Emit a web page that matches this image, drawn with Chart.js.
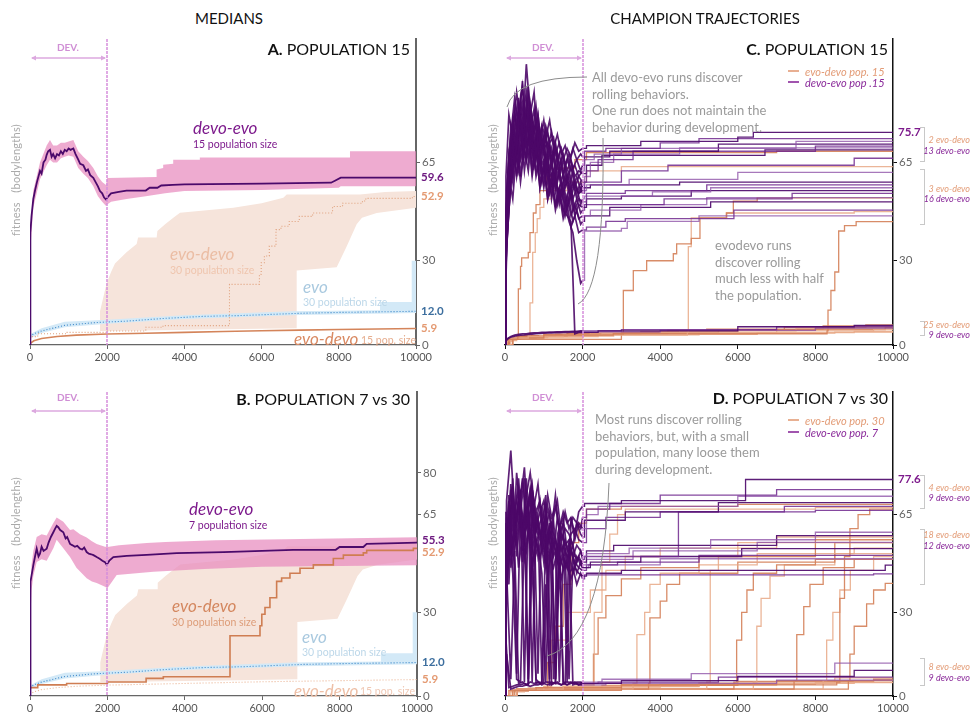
<!DOCTYPE html>
<html>
<head>
<meta charset="utf-8">
<script src="https://cdn.jsdelivr.net/npm/chart.js@4.4.1/dist/chart.umd.min.js"></script>
<style>
body { margin: 0; background: #fff; width: 973px; height: 713px; overflow: hidden; position: relative; font-family: Lato, "Noto Sans", sans-serif; }
canvas { position: absolute; }
.c { position: absolute; white-space: nowrap; line-height: 1; transform: translateY(-50%); }
.mid { transform: translate(-50%, -50%); }
.rot { transform: translate(-50%, -50%) rotate(-90deg); color: #aaa; font-size: 11px; letter-spacing: 0.3px; }
.dev { font-size: 10px; font-weight: bold; color: #d08fd5; }
.ttl { font-size: 16px; color: #111; }
.note { position: absolute; color: #9a9a9a; font-size: 13px; line-height: 16.7px; white-space: nowrap; }
.big { font-style: italic; font-size: 17px; }
.sm { font-size: 10.5px; }
.br { position: absolute; width: 4px; border: 1px solid #c8c8c8; border-left: none; }
.bl { font-size: 9px; font-style: italic; text-align: right; }
.o { color: #e39c77; }
.p { color: #8a2a9a; }
svg { position: absolute; left: 0; top: 0; pointer-events: none; z-index: 5; }
</style>
</head>
<body>
<canvas id="cA" width="486" height="340" style="left:0;top:30px"></canvas>
<canvas id="cC" width="493" height="340" style="left:480px;top:30px"></canvas>
<canvas id="cB" width="486" height="330" style="left:0;top:383px"></canvas>
<canvas id="cD" width="493" height="330" style="left:480px;top:383px"></canvas>

<div class="c mid" style="left:229px;top:18px;font-size:15px;color:#111">MEDIANS</div>
<div class="c mid" style="left:705px;top:18px;font-size:15px;color:#111">CHAMPION TRAJECTORIES</div>

<div class="c ttl" style="right:563px;top:49px"><b>A.</b> POPULATION 15</div>
<div class="c ttl" style="right:85px;top:49px"><b>C.</b> POPULATION 15</div>
<div class="c ttl" style="right:563px;top:399px"><b>B.</b> POPULATION 7 vs 30</div>
<div class="c ttl" style="right:85px;top:398px"><b>D.</b> POPULATION 7 vs 30</div>

<div class="c mid dev" style="left:68px;top:47px">DEV.</div>
<div class="c mid dev" style="left:543px;top:47px">DEV.</div>
<div class="c mid dev" style="left:68px;top:397px">DEV.</div>
<div class="c mid dev" style="left:543px;top:397px">DEV.</div>

<div class="c rot" style="left:15px;top:180px">fitness&nbsp;&nbsp;&nbsp;(bodylengths)</div>
<div class="c rot" style="left:492px;top:180px">fitness&nbsp;&nbsp;&nbsp;(bodylengths)</div>
<div class="c rot" style="left:15px;top:533px">fitness&nbsp;&nbsp;&nbsp;(bodylengths)</div>
<div class="c rot" style="left:492px;top:533px">fitness&nbsp;&nbsp;&nbsp;(bodylengths)</div>

<!-- panel A labels -->
<div class="c big" style="left:193px;top:127px;color:#7d1a8c">devo-evo</div>
<div class="c sm" style="left:193px;top:144px;color:#7d1a8c">15 population size</div>
<div class="c big" style="left:170px;top:253px;color:#ebbda4">evo-devo</div>
<div class="c sm" style="left:170px;top:270px;color:#efc5ae">30 population size</div>
<div class="c big" style="left:303px;top:286px;color:#a9c9df">evo</div>
<div class="c sm" style="left:303px;top:302px;color:#bcd7e9">30 population size</div>
<div class="c big" style="left:294px;top:338px;color:#d98a63">evo-devo</div>
<div class="c sm" style="left:361px;top:340px;color:#e6ad8e">15 pop. size</div>

<!-- panel B labels -->
<div class="c big" style="left:189px;top:508px;color:#7d1a8c">devo-evo</div>
<div class="c sm" style="left:189px;top:525px;color:#7d1a8c">7 population size</div>
<div class="c big" style="left:172px;top:605px;color:#d4875f">evo-devo</div>
<div class="c sm" style="left:172px;top:622px;color:#dd9c78">30 population size</div>
<div class="c big" style="left:302px;top:636px;color:#a9c9df">evo</div>
<div class="c sm" style="left:302px;top:652px;color:#bcd7e9">30 population size</div>
<div class="c big" style="left:294px;top:690px;color:#eebfa6">evo-devo</div>
<div class="c sm" style="left:360px;top:691px;color:#f0c8b4">15 pop. size</div>

<!-- panel C notes -->
<div class="c" style="left:805px;top:71px;font-size:11px;font-style:italic;color:#e39c77">evo-devo pop. 15</div>
<div class="c" style="left:805px;top:82px;font-size:11px;font-style:italic;color:#8a2a9a">devo-evo pop .15</div>
<div class="note" style="left:592px;top:69px">All devo-evo runs discover<br>rolling behaviors.<br>One run does not maintain the<br>behavior during development.</div>
<div class="note" style="left:715px;top:237px">evodevo runs<br>discover rolling<br>much less with half<br>the population.</div>

<!-- panel D notes -->
<div class="c" style="left:805px;top:420px;font-size:11px;font-style:italic;color:#e39c77">evo-devo pop. 30</div>
<div class="c" style="left:805px;top:432px;font-size:11px;font-style:italic;color:#8a2a9a">devo-evo pop. 7</div>
<div class="note" style="left:595px;top:411px">Most runs discover rolling<br>behaviors, but, with a small<br>population, many loose them<br>during development.</div>

<!-- brackets C -->
<div class="br" style="left:920px;top:127px;height:33px"></div>
<div class="br" style="left:920px;top:169px;height:54px"></div>
<div class="br" style="left:920px;top:321px;height:13px"></div>
<div class="c bl o" style="right:3px;top:139px">2 evo-devo</div>
<div class="c bl p" style="right:3px;top:150px">13 devo-evo</div>
<div class="c bl o" style="right:3px;top:188px">3 evo-devo</div>
<div class="c bl p" style="right:3px;top:198px">16 devo-evo</div>
<div class="c bl o" style="right:3px;top:324px">25 evo-devo</div>
<div class="c bl p" style="right:3px;top:334px">9 devo-evo</div>

<!-- brackets D -->
<div class="br" style="left:920px;top:475px;height:32px"></div>
<div class="br" style="left:920px;top:529px;height:54px"></div>
<div class="br" style="left:920px;top:658px;height:26px"></div>
<div class="c bl o" style="right:3px;top:487px">4 evo-devo</div>
<div class="c bl p" style="right:3px;top:497px">9 devo-evo</div>
<div class="c bl o" style="right:3px;top:534px">18 evo-devo</div>
<div class="c bl p" style="right:3px;top:545px">12 devo-evo</div>
<div class="c bl o" style="right:3px;top:666px">8 evo-devo</div>
<div class="c bl p" style="right:3px;top:677px">9 devo-evo</div>

<svg width="973" height="713">
  <g fill="none" stroke="#8c8c8c" stroke-width="1">
    <path d="M587,77 Q515,77 507,107"/>
    <path d="M603,138 Q605,290 578,304"/>
    <path d="M609,483 Q603,640 547,656"/>
  </g>
  <g stroke-width="1.6">
    <line x1="788" y1="71" x2="799" y2="71" stroke="#e39c77"/>
    <line x1="788" y1="82" x2="799" y2="82" stroke="#8a2a9a"/>
    <line x1="788" y1="420" x2="799" y2="420" stroke="#e39c77"/>
    <line x1="788" y1="432" x2="799" y2="432" stroke="#8a2a9a"/>
  </g>
</svg>

<script>
// ---- axes ----
const xTicks = [0, 2000, 4000, 6000, 8000, 10000];
const yTicksA = [0, 30, 65];
const yTicksB = [0, 30, 65, 80];
const yTicksC = [0, 30, 65];
const yTicksD = [0, 30, 65];

// ---- medians (panels A, B) ----
const aDevoMedian = [[0,0],[5,30],[15,40],[40,46],[86,52],[130,55],[180,58],[259,62],[300,61],[350,65],[400,66],[432,67.7],[470,69],[518,69.5],[560,67],[600,68],[650,66.5],[700,68],[750,67.5],[800,69],[850,68],[900,69.5],[950,69],[1000,70],[1050,69.5],[1123,70],[1180,68],[1250,66],[1300,64.5],[1382,64],[1450,62],[1500,62.5],[1560,60.5],[1640,59.5],[1700,58],[1760,56.5],[1813,54.8],[1870,54],[1920,52.5],[1970,51.8],[2000,52.5],[2100,54],[2300,54.5],[2500,55],[3000,55],[3100,56],[3300,56],[3400,56.8],[3700,57],[4000,57.2],[6000,57.5],[7800,57.8],[7900,58.5],[8050,59.6],[10000,59.6]];
const aDevoUpper = [[0,0],[15,42],[86,55],[259,65],[432,71],[518,73],[600,71],[700,71],[800,72],[900,72],[1000,72.5],[1123,73],[1250,69],[1382,67],[1500,65.5],[1640,63],[1760,60],[1870,58],[1970,57],[2000,59.5],[3280,59.8],[3280,62.5],[3450,63],[3450,64.2],[3710,64.5],[3710,66],[4400,66],[4400,66.8],[8290,66.8],[8290,69],[10000,69]];
const aDevoLower = [[0,0],[15,35],[86,49],[259,59],[432,64],[518,66],[600,65],[700,65],[800,66.5],[900,67],[1000,67.5],[1123,67],[1250,63],[1382,61],[1500,59.5],[1640,56.5],[1760,53],[1870,51],[1970,49.5],[2000,50],[2100,51],[2500,52],[3000,53],[3500,54],[4000,54.8],[6000,55.2],[8000,56],[8050,56.5],[10000,56.5]];

const bDevoMedian = [[0,0],[5,30],[20,41],[86,46.9],[130,50],[173,52.8],[220,50],[258,51],[300,53.5],[350,52],[431,52.8],[480,55],[540,57],[603,58.7],[650,60],[689,61],[730,60.5],[780,59.5],[861,58.7],[920,56.5],[960,57],[1034,54.5],[1100,54],[1160,53.5],[1220,53.8],[1292,52.8],[1350,52.5],[1400,53.2],[1464,51.6],[1520,51],[1580,50.8],[1640,50.5],[1723,49.8],[1800,49.2],[1870,48.5],[1938,48],[1981,47],[2050,48.5],[2153,49.8],[2500,50.2],[3015,50.6],[3790,51.2],[5000,51.6],[6000,52],[6800,52.4],[7900,52.4],[8000,53.4],[8613,53.4],[8700,54.5],[9500,54.8],[10000,55]];
const bDevoUpper = [[0,0],[10,38],[40,47],[86,52],[173,57],[300,58],[431,57.5],[603,62],[689,64],[861,62.5],[1034,59.5],[1120,59.8],[1292,58],[1464,56.8],[1600,55.5],[1723,54.5],[1938,53.5],[2000,53.4],[2300,54],[3015,54.8],[3500,55.2],[4800,55.8],[7000,56.3],[10000,56.9]];
const bDevoLower = [[0,0],[10,28],[40,38],[86,43],[173,48],[300,49],[431,48.5],[603,53],[689,56],[861,53],[1034,49.8],[1200,46],[1464,42.2],[1600,41],[1723,40.5],[1938,39.2],[2000,38.6],[2240,43.4],[3187,44.5],[4500,45.5],[6000,46.3],[10000,46.9]];

const evoDevo30Median = [[0,1.5],[200,3],[947,4],[2000,4.5],[3000,5],[3445,6.3],[5168,6.9],[5254,21.6],[5943,21.6],[5990,25.2],[6072,29.3],[6200,31.7],[6373,35.2],[6502,41.1],[6717,42.3],[6977,44],[7321,45.8],[7838,47],[8097,49.3],[8613,50.5],[8700,51.3],[9906,52.2],[10000,52.9]];
const evoDevo30Upper = [[1813,5],[1813,12],[1900,17],[1986,22],[2100,26],[2202,29],[2500,33],[2763,36],[2800,38.3],[3282,38.3],[3300,40.6],[3500,43],[3713,45.3],[3886,47.1],[5268,48.9],[6000,50.5],[6563,52.4],[6650,53.6],[8549,53.6],[9200,54.5],[10000,54.8]];
const evoDevo30Lower = [[1813,5],[3000,5.2],[5000,5.6],[6909,6],[6909,26.5],[7945,27.7],[8200,35],[8463,43],[8600,45.3],[8982,47],[10000,48.9]];

const evoMedian = [[0,3],[100,4],[300,5],[600,6],[900,7],[1300,7.5],[1700,8],[2000,8.2],[2500,8.5],[3000,9],[3500,9.5],[4500,10.2],[5500,10.5],[7000,11.3],[8000,11.6],[9000,11.8],[10000,12]];
const evoUpper = [[0,3.8],[300,6],[900,8.3],[2000,9],[4000,10.6],[6800,12],[9067,12.4],[9067,15.3],[9889,15.3],[9889,30],[10000,30]];
const evoLower = [[0,2.4],[300,4.3],[900,6.3],[2000,7.6],[4000,9.3],[7000,10.7],[10000,11.4]];

const evoDevo15Median = [[0,0.5],[100,1.5],[300,2.3],[700,3],[1200,3.5],[2000,3.9],[3000,4.2],[4000,4.5],[5000,4.8],[6000,5.1],[7000,5.3],[8000,5.5],[9000,5.7],[10000,5.9]];

const aEndValues = [59.6, 52.9, 12.0, 5.9];
const bEndValues = [55.3, 52.9, 12.0, 5.9];
const cEndValues = [75.7];
const dEndValues = [77.6];

// ---- champion runs (panels C, D) ----
const earlyX = [0,25,100,200,300,400,500,600,700,800,900,1000,1100,1200,1300,1400,1500,1600,1700,1800,1900,2000];
const earlyXb = [0,40,150,250,350,450,550,650,750,850,950,1050,1150,1250,1350,1450,1550,1650,1750,1850,1950,2000];

const cDevoEarly = [
  [0,45,62,80,70,88,78,92,75,85,72,80,70,76,68,72,66,70,67,72,69,70],
  [0,50,70,65,85,75,100,82,90,70,78,74,80,70,75,68,71,65,70,66,68,67],
  [0,38,55,72,60,78,68,84,72,80,66,74,64,70,62,68,60,66,62,64,60,62],
  [0,55,75,88,78,94,70,86,76,82,70,78,72,74,66,70,64,68,63,66,62,64],
  [0,30,48,66,78,60,74,66,80,68,76,70,72,64,70,60,66,58,64,56,60,58],
  [0,42,60,76,84,72,86,74,70,82,68,74,62,70,60,66,58,62,56,60,55,57],
  [0,60,82,74,90,80,76,88,74,78,72,70,76,66,72,64,68,62,66,60,62,61],
  [0,35,58,70,64,76,82,70,78,64,74,62,70,58,64,56,60,54,58,52,56,54],
  [0,40,66,58,74,84,72,80,68,74,62,70,58,66,56,62,54,60,52,58,54,55],
  [0,48,72,84,68,80,90,76,84,70,78,64,72,60,68,58,64,56,62,54,58,56],
  [0,28,52,64,72,58,70,62,76,60,66,56,64,54,60,52,58,50,56,48,52,51],
  [0,52,78,70,82,92,74,86,66,78,70,76,60,68,58,64,56,60,52,56,50,52],
  [0,33,56,74,60,70,80,68,74,62,68,58,66,52,60,50,56,48,54,46,50,49],
  [0,46,64,78,88,66,82,72,64,76,60,68,56,62,54,58,50,56,48,52,47,48],
  [0,40,60,52,70,78,62,74,60,70,56,64,52,60,50,56,47,53,46,50,45,46],
  [0,36,58,70,62,74,66,78,64,70,58,66,54,60,50,56,46,52,44,48,43,44],
  [0,44,68,60,76,66,72,80,62,70,56,64,52,58,48,54,45,50,42,46,40,41],
  [0,50,70,82,74,86,76,82,70,76,64,68,60,62,56,54,50,44,40,30,22,23],
  [0,40,64,76,66,80,70,74,64,70,58,64,54,60,50,54,48,46,44,4,4.5,4.5],
  [0,2,3,3.5,3.8,4,4,4.2,4.3,4.3,4.5,4.5,4.6,4.6,4.7,4.7,4.8,4.8,4.9,4.9,5,5],
  [0,1.5,2.5,3,3.3,3.5,3.6,3.8,3.9,4,4.1,4.2,4.3,4.3,4.4,4.4,4.5,4.5,4.6,4.6,4.7,4.7]
];
const cDevoLater = [
  [[2100,71],[3500,72.5],[6000,74],[6400,75.7]],
  [[2050,69],[2600,70],[4000,72],[5000,73.5]],
  [[2050,66],[2300,68],[3000,70],[7500,72.5]],
  [[2050,67],[2700,69],[5500,71.5]],
  [[2100,62],[2400,66],[3300,69],[8000,70.8]],
  [[2050,60],[2200,65],[2800,68],[4500,70.2]],
  [[2100,64],[2500,67.5],[6700,69.5]],
  [[2050,58],[3000,62],[4200,64],[9000,66.5]],
  [[2100,57],[3200,59],[6000,61.5]],
  [[2200,57],[4500,58]],
  [[2100,54],[3100,55],[5200,57]],
  [[2050,53],[3800,54.5],[5300,56]],
  [[2100,52],[3000,53],[4800,55]],
  [[2050,50],[4100,52],[7400,54]],
  [[2200,48],[3500,50],[5200,52.5]],
  [[2050,46],[2700,49],[5300,51]],
  [[2100,42],[2600,44],[3100,45],[5900,48]],
  [[2050,40.6],[3000,41.5],[3150,44],[5000,46]],
  [[2400,5],[6000,6.5],[9000,7]],
  [[3000,5.5],[7000,6.5]],
  [[4000,5.2],[8000,6]]
];
const cEvoDevoRuns = [
  [[0,0],[100,2],[330,3],[344,20],[400,28],[429,31],[600,33],[644,40],[730,47],[800,50],[902,55],[1074,60],[1300,63],[1800,66],[2100,68.5],[7000,69]],
  [[0,0],[150,2.5],[600,3.5],[644,15],[700,25],[720,33],[780,40],[830,45],[902,49],[1000,52],[1200,55],[1600,58],[2100,62],[3000,63.5]],
  [[0,0],[200,2.5],[1000,3.5],[2791,4],[3050,19.4],[3307,26.5],[3651,30],[4338,32.5],[4424,36],[4800,38],[5025,45.3],[5713,47],[5885,51.2],[6500,52.4]],
  [[0,0],[200,2.5],[2000,3.5],[4700,4.5],[4725,35],[4800,45.3],[5700,47],[9000,47.5]],
  [[0,0],[200,2],[3000,4],[8300,5],[8325,12.4],[8400,19.4],[8500,26],[8600,40.6],[8750,42.5],[9050,43.9]],
  [[0,0],[50,1.5],[200,2.5],[600,3],[1500,3.5],[2500,4],[4000,4.5],[7000,5],[9500,5.5]],
  [[0,0],[80,2],[300,3],[1000,3.8],[3000,4.5],[5500,5.3],[8000,6]],
  [[0,0],[60,1.8],[250,2.8],[900,3.4],[2200,4.2],[4500,5],[7500,5.8],[9000,6.5]],
  [[0,0],[100,2.2],[400,3.2],[1300,3.9],[3500,4.8],[6000,5.5],[9800,6.2]],
  [[0,0],[70,1.6],[300,2.6],[1100,3.2],[2800,3.8],[6500,4.4],[9000,4.8]],
  [[0,0],[90,2.1],[350,3.1],[1600,4],[4200,5.2],[7200,6.4],[9300,7.2]],
  [[0,0],[50,1.4],[200,2.4],[800,3],[2400,3.6],[5000,4.2],[8500,4.6]],
  [[0,0],[120,2.3],[500,3.3],[2000,4.3],[5200,5.6],[8200,6.8]]
];

const dDevoEarly = [
  [0,62,40,75,8,70,82,60,74,66,70,58,72,64,68,60,66,62,64,58,66,68],
  [0,70,88,64,78,56,72,80,68,76,60,72,6,64,70,58,66,60,64,62,60,64],
  [0,55,72,50,80,66,78,6,74,62,70,54,68,60,72,58,62,5,64,56,62,60],
  [0,48,76,58,66,78,60,74,64,8,68,60,66,52,64,56,60,58,54,62,58,57],
  [0,60,50,70,62,74,5,68,76,60,66,70,58,62,6,60,64,52,58,60,56,55],
  [0,42,68,56,72,60,66,74,58,64,52,68,56,62,50,58,54,56,50,54,52,50],
  [0,66,58,78,54,68,62,70,5,66,58,62,54,60,56,52,58,48,56,50,49,48],
  [0,52,74,62,70,58,78,56,68,60,64,50,62,6,58,52,56,50,54,48,52,49],
  [0,36,60,72,50,66,58,62,70,54,60,48,58,52,56,44,54,50,52,46,50,47],
  [0,58,46,66,74,52,64,70,56,62,5,58,50,56,48,54,46,52,44,50,47,46],
  [0,44,70,54,62,72,56,66,52,60,56,62,48,56,52,5,50,46,52,48,46,45],
  [0,64,52,60,70,48,68,54,62,50,58,46,60,50,54,48,52,6,50,44,48,46],
  [0,50,62,48,58,68,50,60,46,56,50,54,44,52,6,50,46,48,42,46,44,43],
  [0,40,56,66,46,58,52,64,48,54,44,5,50,46,52,42,48,44,46,40,44,42],
  [0,30,58,44,6,5,60,4,50,6,4.5,5,52,4,5,48,5,4,4.5,5,4,5],
  [0,45,6,52,4.5,5,4,5,4.5,5,4,5,5,4.5,5,4,5,5,4.5,5,5,4.5],
  [0,20,3,3.5,4,4,4.5,4,58,4.5,5,4.5,4,5,4.5,62,4.5,4,5,4.5,4,4.5],
  [0,15,2.5,3,3.5,3.5,4,3.5,4,4,4.5,40,4,4.5,4.5,4,4.5,55,4,4.5,4,4]
];
const dDevoLater = [
  [[2050,69],[3000,70],[6200,77.6]],
  [[2100,67],[2700,69],[4000,72],[7000,74]],
  [[2100,65],[2400,68],[6000,71.6]],
  [[2050,63],[3100,66],[5500,69.3]],
  [[2100,60],[2600,64],[4000,66],[7200,68]],
  [[2100,51],[3200,53],[5300,56],[8000,58.7]],
  [[2100,52],[2800,54],[7000,57.5]],
  [[2050,50],[4470,66],[8000,66.5]],
  [[2100,49],[3300,52],[6500,55.1]],
  [[2200,48],[3500,50],[6100,52.8]],
  [[2100,47],[2900,48],[5000,50.4]],
  [[2150,47],[4000,49.2]],
  [[2100,44],[3000,45],[9800,46.9]],
  [[2050,43.4],[9500,43.8]],
  [[2500,6],[4800,8],[8500,11.8]],
  [[3000,5.5],[6000,7],[9000,9.2]],
  [[2400,5],[5500,6.8]],
  [[2600,4.5],[7000,5.7]]
];
const dEvoDevoRuns = [
  [[0,0],[200,2],[800,3],[1100,12],[1300,25],[1500,40],[1700,55],[1900,62],[2100,67],[3000,68],[6000,68.7]],
  [[0,0],[300,2.5],[1500,3.5],[2300,30],[2500,48],[2700,58],[2900,65],[3100,67],[8000,67.5]],
  [[0,0],[250,2],[3000,4],[8550,5],[8630,35],[8750,50],[8890,60],[9100,65],[9400,67]],
  [[0,0],[200,2],[1000,3.5],[1200,20],[1600,30],[2200,38],[2600,45],[3100,50],[4000,53],[6000,55]],
  [[0,0],[300,2.5],[2000,4],[2280,15],[2400,28],[2600,36],[3000,42],[3500,46],[5000,50],[8000,56]],
  [[0,0],[300,2.5],[3300,4.5],[3400,22],[3600,30],[3735,40],[4000,44],[5000,47],[6500,51],[9000,53]],
  [[0,0],[300,2.5],[3700,4.5],[3735,28],[4000,34],[4170,40],[4500,44],[6000,48],[8500,55]],
  [[0,0],[300,2.5],[5200,5],[5290,45],[5500,50],[6000,53],[7000,57]],
  [[0,0],[300,2.5],[5900,5],[5970,20],[6100,30],[6235,38],[6400,44],[7000,47],[8000,49]],
  [[0,0],[300,2.5],[6400,5],[6490,25],[6600,35],[6830,43],[7200,47],[8500,51]],
  [[0,0],[300,2.5],[7450,5.5],[7520,22],[7700,32],[7860,40],[8200,46],[9000,49]],
  [[0,0],[300,2.5],[8200,5.5],[8290,20],[8450,30],[8630,38],[8900,45],[9500,50]],
  [[0,0],[300,2.5],[8850,5.5],[8890,15],[9000,25],[9320,33],[9500,38],[9800,40.4]],
  [[0,0],[100,1.5],[500,2.5],[2000,3.5],[5000,4.5],[9000,5]],
  [[0,0],[100,2],[800,3],[3000,4],[7000,5.5]],
  [[0,0],[150,2],[1000,3.2],[4000,4.2],[8000,4.8]],
  [[0,0],[100,1.8],[600,2.8],[2500,3.8],[6000,5.2],[9500,6]],
  [[0,0],[200,2.2],[1500,3.4],[5000,4.6],[8500,6.5]]
];

// ---- helpers ----
const FONT = 'Lato, "Noto Sans", sans-serif';
const pts = arr => arr.map(([x, y]) => ({ x, y }));
function stepPts(arr, start) {
  const out = start ? start.slice() : [];
  let prev = out.length ? out[out.length - 1].y : null;
  arr.forEach(([x, y]) => {
    if (prev !== null) out.push({ x, y: prev });
    out.push({ x, y });
    prev = y;
  });
  out.push({ x: 10000, y: prev });
  return out;
}
function runPts(early, later, grid) {
  const e = early.map((v, i) => ({ x: grid[i], y: v }));
  return stepPts(later, e);
}

function line(data, color, width, extra) {
  return Object.assign({ data, borderColor: color, borderWidth: width, pointRadius: 0, fill: false, tension: 0 }, extra || {});
}
function band(lower, upper, color, order) {
  return [
    line(pts(lower), 'rgba(0,0,0,0)', 0, { order }),
    line(pts(upper), 'rgba(0,0,0,0)', 0, { fill: '-1', backgroundColor: color, order: order - 1 })
  ];
}

function deco(endValues, endColors, endShift) {
  return {
    id: 'deco',
    afterDatasetsDraw(chart) {
      const { ctx, chartArea: a, scales: { x, y } } = chart;
      const xd = Math.round(x.getPixelForValue(2000));
      const x0 = x.getPixelForValue(0);
      ctx.save();
      ctx.globalAlpha = 1;
      ctx.strokeStyle = '#d68fdb';
      ctx.lineWidth = 1.5;
      ctx.setLineDash([3, 1]);
      ctx.beginPath(); ctx.moveTo(xd, a.top); ctx.lineTo(xd, a.bottom); ctx.stroke();
      ctx.setLineDash([]);
      const ay = a.top + 19;
      ctx.lineWidth = 1.5;
      ctx.strokeStyle = '#dca8df';
      ctx.fillStyle = '#dca8df';
      ctx.beginPath(); ctx.moveTo(x0 + 2, ay); ctx.lineTo(xd - 2, ay); ctx.stroke();
      ctx.beginPath(); ctx.moveTo(x0 + 1, ay); ctx.lineTo(x0 + 6, ay - 2.5); ctx.lineTo(x0 + 6, ay + 2.5); ctx.fill();
      ctx.beginPath(); ctx.moveTo(xd - 1, ay); ctx.lineTo(xd - 6, ay - 2.5); ctx.lineTo(xd - 6, ay + 2.5); ctx.fill();
      ctx.font = 'bold 11.5px ' + FONT;
      ctx.textBaseline = 'middle';
      endValues.forEach((v, i) => {
        ctx.fillStyle = endColors[i];
        ctx.fillText(v.toFixed(1), a.right + 5, y.getPixelForValue(v) + (endShift[i] || 0));
      });
      ctx.restore();
    }
  };
}

function makeChart(id, datasets, yTicks, opt) {
  return new Chart(document.getElementById(id), {
    type: 'line',
    data: { datasets },
    options: {
      responsive: false,
      animation: false,
      events: [],
      layout: { padding: { left: opt.left, top: 7, right: 0, bottom: 0 } },
      plugins: { legend: { display: false }, tooltip: { enabled: false } },
      scales: {
        x: {
          type: 'linear', min: 0, max: 10000,
          afterBuildTicks: s => { s.ticks = xTicks.map(v => ({ value: v })); },
          afterFit: s => { s.height = opt.xh; },
          ticks: { color: '#555', font: { size: 11, family: FONT }, padding: 2, maxRotation: 0, autoSkip: false, callback: v => String(v) },
          grid: { drawOnChartArea: false, tickLength: 4, color: opt.axis },
          border: { color: opt.axis, width: 1.2 }
        },
        y: {
          type: 'linear', position: 'right', min: 0, max: 109,
          afterBuildTicks: s => { s.ticks = yTicks.map(v => ({ value: v })); },
          afterFit: s => { s.width = opt.yw; },
          ticks: { color: '#666', font: { size: 11.5, family: FONT }, padding: 2, callback: v => String(v) },
          grid: { drawOnChartArea: false, tickLength: 4, color: opt.axis },
          border: { color: opt.axis, width: opt.aw }
        }
      }
    },
    plugins: [deco(opt.ends, opt.endColors, opt.endShift || [])]
  });
}

// ---- panel A / B datasets ----
function medianSets(devoMedian, devoUpper, devoLower, evoDevo30Style, evoDevo15Style) {
  return [
    ...band(evoDevo30Lower, evoDevo30Upper, '#f6e4db', 20),
    ...band(evoLower, evoUpper, '#d3e9f7', 16),
    ...band(devoLower, devoUpper, 'rgba(232,138,190,0.72)', 12),
    line(pts(evoDevo30Median), evoDevo30Style.color, evoDevo30Style.width, { borderDash: evoDevo30Style.dash, stepped: 'after', order: 5 }),
    line(pts(evoMedian), '#3a86c8', 1.1, { borderDash: [1, 2], order: 4 }),
    line(pts(evoDevo15Median), evoDevo15Style.color, evoDevo15Style.width, { borderDash: evoDevo15Style.dash, order: 3 }),
    line(pts(devoMedian), '#4b0a6b', 1.8, { order: 1 })
  ];
}
const endColorsAB = ['#6e1a80', '#e49a72', '#3c6e9e', '#e49a72'];

makeChart('cA', medianSets(aDevoMedian, aDevoUpper, aDevoLower,
  { color: '#e0a07c', width: 1.1, dash: [1, 2] },
  { color: '#d4845a', width: 1.6, dash: [] }), yTicksA,
  { left: 30, xh: 25, yw: 70, axis: '#666', aw: 2, ends: aEndValues, endColors: endColorsAB });

makeChart('cB', medianSets(bDevoMedian, bDevoUpper, bDevoLower,
  { color: '#cf7d52', width: 1.6, dash: [] },
  { color: '#eab393', width: 1.1, dash: [1, 2] }), yTicksB,
  { left: 30, xh: 17, yw: 69, axis: '#666', aw: 2, ends: bEndValues, endColors: endColorsAB, endShift: [-1, 4, 0, 0] });

// ---- panel C / D datasets ----
const purples = ['rgba(78,10,108,0.92)', 'rgba(112,40,142,0.85)', 'rgba(142,82,168,0.78)'];
const oranges = ['rgba(212,128,88,0.9)', 'rgba(232,168,134,0.85)'];
const earlyPurple = 'rgba(76,8,104,0.9)';
function runSets(devoEarly, devoLater, evoDevoRuns) {
  const o = evoDevoRuns.map((r, i) => line(stepPts(r), oranges[i % 2], 1.3, { order: 2 }));
  const p = devoEarly.map((e, i) => {
    const c = purples[i % 3];
    return line(runPts(e, devoLater[i], i % 2 ? earlyXb : earlyX), c, 1.3, {
      order: 1,
      segment: {
        borderWidth: s => (s.p0.parsed.x < 2000 ? 1.7 : 1.3),
        borderColor: s => (s.p0.parsed.x < 2000 ? earlyPurple : c)
      }
    });
  });
  return [...p, ...o];
}

makeChart('cC', runSets(cDevoEarly, cDevoLater, cEvoDevoRuns), yTicksC,
  { left: 25, xh: 25, yw: 80, axis: '#111', aw: 1.5, ends: cEndValues, endColors: ['#7d1a8c'] });
makeChart('cD', runSets(dDevoEarly, dDevoLater, dEvoDevoRuns), yTicksD,
  { left: 25, xh: 17, yw: 80, axis: '#111', aw: 1.5, ends: dEndValues, endColors: ['#7d1a8c'] });
</script>
</body>
</html>
